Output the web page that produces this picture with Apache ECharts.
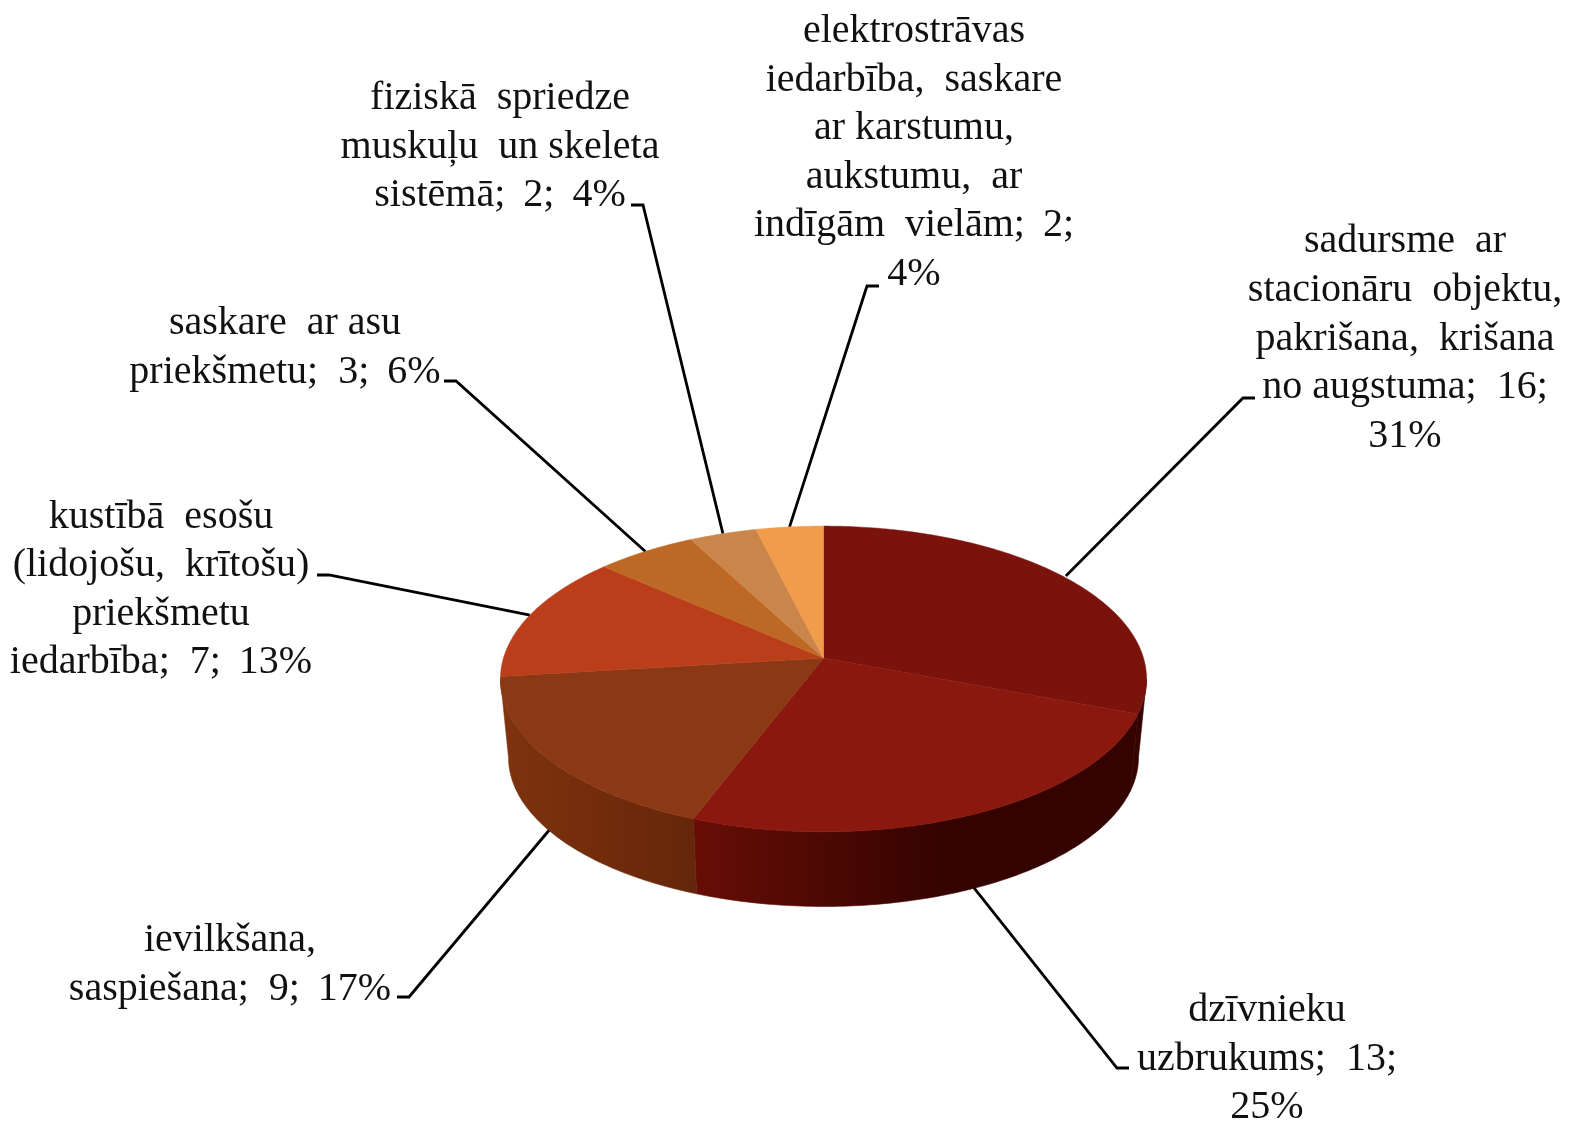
<!DOCTYPE html>
<html>
<head>
<meta charset="utf-8">
<style>html,body{margin:0;padding:0;background:#fff}#c{width:1569px;height:1121px}</style>
<script src="https://cdn.jsdelivr.net/npm/echarts@6/dist/echarts.min.js"></script>
</head>
<body>
<div id="c"></div>
<script>
var categories = [
  'sadursme ar stacionāru objektu, pakrišana, krišana no augstuma',
  'dzīvnieku uzbrukums',
  'ievilkšana, saspiešana',
  'kustībā esošu (lidojošu, krītošu) priekšmetu iedarbība',
  'saskare ar asu priekšmetu',
  'fiziskā spriedze muskuļu un skeleta sistēmā',
  'elektrostrāvas iedarbība, saskare ar karstumu, aukstumu, ar indīgām vielām'
];
var values = [16, 13, 9, 7, 3, 2, 2];
var labelTexts = [
  'sadursme  ar\nstacionāru  objektu,\npakrišana,  krišana\nno augstuma;  16;\n31%',
  'dzīvnieku\nuzbrukums;  13;\n25%',
  'ievilkšana,\nsaspiešana;  9;\u2009 17%',
  'kustībā  esošu\n(lidojošu,  krītošu)\npriekšmetu\niedarbība;  7;\u2009 13%',
  'saskare  ar asu\npriekšmetu;  3;\u2009 6%',
  'fiziskā  spriedze\nmuskuļu  un skeleta\nsistēmā;\u2009 2;\u2009 4%',
  'elektrostrāvas\niedarbība,  saskare\nar karstumu,\naukstumu,  ar\nindīgām  vielām;\u2009 2;\n4%'
];
var topColors = ['#7A130C', '#8A180E', '#8B3815', '#BA3E1A', '#BD6825', '#CA854A', '#F09C4A'];
var sideStops = [
  [[0, '#340300'], [1, '#340300']],
  [[0, '#670E06'], [0.68, '#340300'], [1, '#340300']],
  [[0, '#7F330F'], [1, '#652609']],
  [[0, '#7F2A10'], [1, '#7F2A10']],
  [[0, '#7F4518'], [1, '#7F4518']],
  [[0, '#8A5A30'], [1, '#8A5A30']],
  [[0, '#A56A30'], [1, '#A56A30']]
];
var sideX = [[693, 1146], [693, 1065], [501, 693], [501, 693], [501, 693], [501, 693], [501, 693]];
var labelCenters = [[1405, 339], [1267, 1059], [230, 965], [161, 590], [285, 348], [500, 147], [914, 153]];
var elbows = [
  [[1243, 398], [1255, 398]],
  [[1117, 1068], [1129, 1068]],
  [[409, 997], [397, 997]],
  [[329, 575], [317, 575]],
  [[456, 381], [444, 381]],
  [[643, 205], [631, 205]],
  [[867, 286], [879, 286]]
];
var anchorOnBottom = [false, true, true, false, false, false, false];
var anchorOffsets = [[-2, -3], [3, -3], [-3, -9], [0, 0], [0, 0], [0, 0], [0, 0]];

var CX = 823.5, CY = 658, A = 320, B = 150, K = 0.137;
var BOTTOM_CY = 737, BOTTOM_SCALE = 0.975;
var total = values.reduce(function (a, b) { return a + b; }, 0);
var VISIBLE_FROM = Math.acos(-K), VISIBLE_TO = 2 * Math.PI - Math.acos(-K);

function project(theta, bottom) {
  var u = Math.sin(theta), v = Math.cos(theta), w = 1 + K * v;
  var s = bottom ? BOTTOM_SCALE : 1;
  return [CX + s * A * u / w, (bottom ? BOTTOM_CY : CY) - s * B * v / w];
}
function arc(a0, a1, bottom) {
  var n = Math.max(4, Math.ceil((a1 - a0) / 0.015)), pts = [];
  for (var i = 0; i <= n; i++) pts.push(project(a0 + (a1 - a0) * i / n, bottom));
  return pts;
}
function renderSlice(params, api) {
  var i = params.dataIndex, before = 0;
  for (var j = 0; j < i; j++) before += values[j];
  var a0 = before / total * 2 * Math.PI;
  var a1 = (before + api.value(0)) / total * 2 * Math.PI;
  var mid = (a0 + a1) / 2;
  var p = project(mid, anchorOnBottom[i]);
  var anchor = [p[0] + anchorOffsets[i][0], p[1] + anchorOffsets[i][1]];
  var children = [
    { type: 'polyline', z2: 1, silent: true,
      shape: { points: [anchor].concat(elbows[i]) },
      style: { stroke: '#000', lineWidth: 2.8, fill: null } }
  ];
  var s0 = Math.max(a0, VISIBLE_FROM), s1 = Math.min(a1, VISIBLE_TO);
  if (s1 > s0) {
    var gradient = {
      type: 'linear', global: true, x: sideX[i][0], y: 0, x2: sideX[i][1], y2: 0,
      colorStops: sideStops[i].map(function (s) { return { offset: s[0], color: s[1] }; })
    };
    children.push({ type: 'polygon', z2: 2, silent: true,
      shape: { points: arc(s0, s1, false).concat(arc(s0, s1, true).reverse()) },
      style: { fill: gradient, stroke: gradient, lineWidth: 0.6 } });
  }
  children.push({ type: 'polygon', z2: 10 + i, silent: true,
    shape: { points: [[CX, CY]].concat(arc(a0, a1, false)) },
    style: { fill: topColors[i], stroke: topColors[i], lineWidth: 0.5 } });
  children.push({ type: 'text', z2: 30, silent: true,
    style: {
      text: labelTexts[i], x: labelCenters[i][0], y: labelCenters[i][1],
      align: 'center', verticalAlign: 'middle',
      font: '40px "Liberation Serif", "Times New Roman", serif',
      lineHeight: 48.6, fill: '#111'
    } });
  return { type: 'group', children: children };
}
var chart = echarts.init(document.getElementById('c'), null, { renderer: 'canvas' });
chart.setOption({
  animation: false,
  backgroundColor: '#fff',
  series: [{
    type: 'custom',
    coordinateSystem: 'none',
    clip: false,
    renderItem: renderSlice,
    data: values.map(function (v, i) { return { name: categories[i], value: [v] }; })
  }]
});
</script>
</body>
</html>
